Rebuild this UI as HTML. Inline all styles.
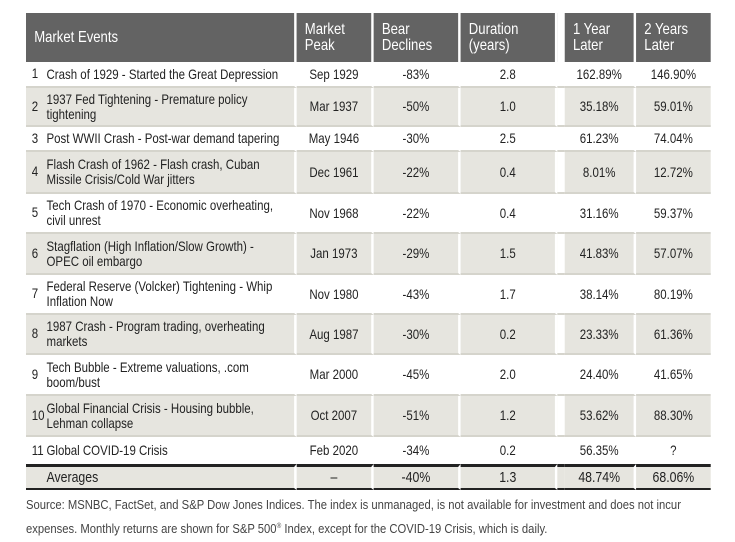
<!DOCTYPE html>
<html><head><style>
body{margin:0;background:#fff;width:735px;height:542px;position:relative;overflow:hidden;font-family:"Liberation Sans",sans-serif;color:#222;}
.wrap{position:absolute;left:26px;top:13px;width:835px;transform:scaleX(0.82);transform-origin:0 0;}
table{border-collapse:separate;border-spacing:0;table-layout:fixed;width:835px;}
td,th{padding:0;font-size:14px;line-height:15px;white-space:nowrap;box-sizing:border-box;}
th{background:#636363;color:#fff;font-weight:normal;text-align:left;font-size:16px;line-height:16px;padding-left:10px;vertical-align:middle;border-right:3px solid #fff;height:49px;}
th.g,td.g{background:#fff !important;border-right:0;padding:0;}
td{text-align:center;border-right:3px solid #fff;border-bottom:2px solid #d5d4cc;}
tr.e td{background:#e6e5df;}
td.ev{text-align:left;padding-left:25px;position:relative;}
td.ev span{position:absolute;left:7px;top:0;bottom:0;height:16px;margin:auto 0;}
td:last-child,th:last-child{border-right:0;}
tr.av td{background:#e6e5df;border-top:3px solid #222;border-bottom:2px solid #222;font-size:15px;height:26px;}
.src{position:absolute;left:26px;top:495px;font-size:12.5px;line-height:21px;color:#444;white-space:nowrap;transform:scaleX(0.9);transform-origin:0 0;}
</style></head><body>
<div class="wrap">
<table>
<colgroup><col style="width:330px"><col style="width:94px"><col style="width:106px"><col style="width:118px"><col style="width:9px"><col style="width:87px"><col style="width:91px"></colgroup>
<tr><th>Market Events</th><th>Market<br>Peak</th><th>Bear<br>Declines</th><th>Duration<br>(years)</th><th class="g"></th><th>1 Year<br>Later</th><th>2 Years<br>Later</th></tr>
<tr style="height:26px"><td class="ev"><span>1</span>Crash of 1929 - Started the Great Depression</td><td>Sep 1929</td><td>-83%</td><td>2.8</td><td class="g"></td><td>162.89%</td><td>146.90%</td></tr>
<tr class="e" style="height:39px"><td class="ev"><span>2</span>1937 Fed Tightening - Premature policy<br>tightening</td><td>Mar 1937</td><td>-50%</td><td>1.0</td><td class="g"></td><td>35.18%</td><td>59.01%</td></tr>
<tr style="height:25px"><td class="ev"><span>3</span>Post WWII Crash - Post-war demand tapering</td><td>May 1946</td><td>-30%</td><td>2.5</td><td class="g"></td><td>61.23%</td><td>74.04%</td></tr>
<tr class="e" style="height:42px"><td class="ev"><span>4</span>Flash Crash of 1962 - Flash crash, Cuban<br>Missile Crisis/Cold War jitters</td><td>Dec 1961</td><td>-22%</td><td>0.4</td><td class="g"></td><td>8.01%</td><td>12.72%</td></tr>
<tr style="height:40px"><td class="ev"><span>5</span>Tech Crash of 1970 - Economic overheating,<br>civil unrest</td><td>Nov 1968</td><td>-22%</td><td>0.4</td><td class="g"></td><td>31.16%</td><td>59.37%</td></tr>
<tr class="e" style="height:41px"><td class="ev"><span>6</span>Stagflation (High Inflation/Slow Growth) -<br>OPEC oil embargo</td><td>Jan 1973</td><td>-29%</td><td>1.5</td><td class="g"></td><td>41.83%</td><td>57.07%</td></tr>
<tr style="height:40px"><td class="ev"><span>7</span>Federal Reserve (Volcker) Tightening - Whip<br>Inflation Now</td><td>Nov 1980</td><td>-43%</td><td>1.7</td><td class="g"></td><td>38.14%</td><td>80.19%</td></tr>
<tr class="e" style="height:40px"><td class="ev"><span>8</span>1987 Crash - Program trading, overheating<br>markets</td><td>Aug 1987</td><td>-30%</td><td>0.2</td><td class="g"></td><td>23.33%</td><td>61.36%</td></tr>
<tr style="height:41px"><td class="ev"><span>9</span>Tech Bubble - Extreme valuations, .com<br>boom/bust</td><td>Mar 2000</td><td>-45%</td><td>2.0</td><td class="g"></td><td>24.40%</td><td>41.65%</td></tr>
<tr class="e" style="height:41px"><td class="ev"><span>10</span>Global Financial Crisis - Housing bubble,<br>Lehman collapse</td><td>Oct 2007</td><td>-51%</td><td>1.2</td><td class="g"></td><td>53.62%</td><td>88.30%</td></tr>
<tr style="height:27px"><td class="ev" style="border-bottom:0"><span>11</span>Global COVID-19 Crisis</td><td style="border-bottom:0">Feb 2020</td><td style="border-bottom:0">-34%</td><td style="border-bottom:0">0.2</td><td class="g" style="border-bottom:0"></td><td style="border-bottom:0">56.35%</td><td style="border-bottom:0">?</td></tr>
<tr class="av"><td class="ev">Averages</td><td>–</td><td>-40%</td><td>1.3</td><td class="g" style="background:#e6e5df !important"></td><td>48.74%</td><td>68.06%</td></tr>
</table>
</div>
<div class="src">Source: MSNBC, FactSet, and S&amp;P Dow Jones Indices. The index is unmanaged, is not available for investment and does not incur<br>expenses. Monthly returns are shown for S&amp;P 500<sup style="font-size:7px">®</sup> Index, except for the COVID-19 Crisis, which is daily.</div>
</body></html>
